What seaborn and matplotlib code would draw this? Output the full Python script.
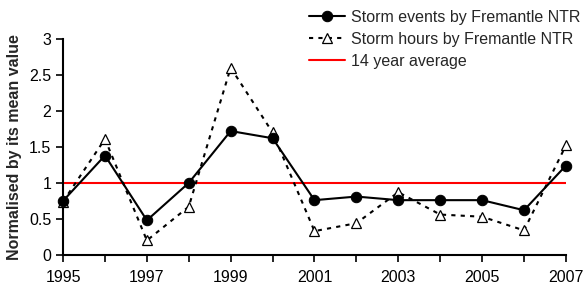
import numpy as np
import pandas as pd
import seaborn as sns
import matplotlib.pyplot as plt

# data
years = [1995, 1996, 1997, 1998, 1999, 2000, 2001, 2002, 2003, 2004, 2005, 2006, 2007]
storm_events = [0.75, 1.38, 0.48, 1.00, 1.72, 1.62, 0.76, 0.81, 0.76, 0.76, 0.76, 0.62, 1.24]
storm_hours = [0.74, 1.61, 0.20, 0.67, 2.60, 1.70, 0.33, 0.44, 0.87, 0.56, 0.53, 0.34, 1.52]
average_level = 1.0
year_labels = ["1995", "1997", "1999", "2001", "2003", "2005", "2007"]
y_labels = ["0", "0.5", "1", "1.5", "2", "2.5", "3"]

sns.set_theme(style="white")
plt.rcParams["font.family"] = ["Liberation Sans", "DejaVu Sans"]

df = pd.DataFrame({"year": years, "events": storm_events, "hours": storm_hours})
df["avg"] = average_level

fig = plt.figure(figsize=(5.84, 2.88), dpi=100)
ax = fig.add_axes([0.108, 0.115, 0.861, 0.75])

sns.lineplot(data=df, x="year", y="avg", ax=ax, color="red", linewidth=1.5,
             label="14 year average", zorder=2)
sns.lineplot(data=df, x="year", y="hours", ax=ax, color="black", linewidth=1.5,
             linestyle=(0, (2, 2.5)), marker="^", markersize=7.5,
             markerfacecolor="white", markeredgecolor="black", markeredgewidth=0.9,
             label="Storm hours by Fremantle NTR", clip_on=False, zorder=3)
sns.lineplot(data=df, x="year", y="events", ax=ax, color="black", linewidth=1.5,
             marker="o", markersize=7.5, markeredgecolor="black",
             label="Storm events by Fremantle NTR", clip_on=False, zorder=4)

ax.set_xlim(1995, 2007)
ax.set_ylim(0, 3)
ax.set_xticks([int(y) for y in year_labels])
ax.set_xticklabels(year_labels)
ax.set_xticks(years, minor=True)
ax.set_yticks([float(v) for v in y_labels])
ax.set_yticklabels(y_labels)

ax.set_xlabel("")
ax.set_ylabel("Normalised by its mean value", fontsize=11.5, fontweight="bold", labelpad=5)
ax.tick_params(axis="both", which="both", direction="out", colors="black",
               labelsize=11.5, width=1.2, length=5)
ax.tick_params(axis="both", which="major", left=True, bottom=True)
ax.tick_params(axis="x", which="both", bottom=True, pad=6)

for side in ["top", "right"]:
    ax.spines[side].set_visible(False)
for side in ["left", "bottom"]:
    ax.spines[side].set_color("black")
    ax.spines[side].set_linewidth(1.5)

handles, labels = ax.get_legend_handles_labels()
order = [2, 1, 0]
ax.get_legend().remove()
fig.legend([handles[i] for i in order], [labels[i] for i in order],
           loc="upper right", bbox_to_anchor=(1.01, 1.0), frameon=False,
           fontsize=11.5, handlelength=2.3, handletextpad=0.35, labelspacing=0.45,
           borderaxespad=0.2)

fig.savefig("out.png", dpi=100)
